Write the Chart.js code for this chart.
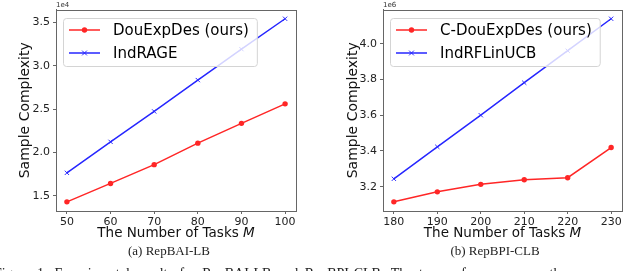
<!DOCTYPE html>
<html>
<head>
<meta charset="utf-8">
<script src="https://cdn.jsdelivr.net/npm/chart.js@4.4.1/dist/chart.umd.min.js"></script>
<style>
    body { margin: 0; background: #fff; width: 640px; height: 271px; overflow: hidden; position: relative; }
    .panel { position: absolute; top: 0; }
    .cap { position: absolute; top: 243px; font: 13px "Liberation Serif", serif; color: #222; transform: translateX(-50%); white-space: nowrap; }
    .fig { position: absolute; top: 266px; left: -6px; font: 14px "Liberation Serif", serif; color: #222; white-space: nowrap; word-spacing: 3px; }
</style>
</head>
<body>
<div class="panel" style="left:0"><canvas id="leftChart" width="310" height="245"></canvas></div>
<div class="panel" style="left:320px"><canvas id="rightChart" width="320" height="245"></canvas></div>
<div class="cap" style="left:169px">(a) RepBAI-LB</div>
<div class="cap" style="left:495px">(b) RepBPI-CLB</div>
<div class="fig">Figure 1: Experimental results for RepBAI-LB and RepBPI-CLB. The top performances are the</div>
<script>
// RepBAI-LB
const leftTasks = [50, 60, 70, 80, 90, 100];
const leftOurs = [14320, 16440, 18600, 21080, 23360, 25600];
const leftBase = [17660, 21230, 24730, 28340, 31900, 35400];
const leftYTicks = [15000, 20000, 25000, 30000, 35000];

// RepBPI-CLB
const rightTasks = [180, 190, 200, 210, 220, 230];
const rightOurs = [3115000, 3171000, 3213000, 3239000, 3250000, 3419000];
const rightBase = [3244000, 3423000, 3600000, 3782000, 3961000, 4140000];
const rightYTicks = [3200000, 3400000, 3600000, 3800000, 4000000];

const RED = "#ff2626";
const BLUE = "#2626ff";
const SPINE = "#666";

// matplotlib-like 5% autoscale margin
const padRange = (vals) => {
    const lo = Math.min(...vals), hi = Math.max(...vals);
    const m = (hi - lo) * 0.05;
    return [lo - m, hi + m];
};

const frame = {
    id: "frame",
    afterDraw(chart) {
        const { ctx, chartArea: a } = chart;
        ctx.save();
        ctx.strokeStyle = SPINE;
        ctx.lineWidth = 1;
        ctx.strokeRect(Math.round(a.left) + 0.5, Math.round(a.top) + 0.5,
            Math.round(a.right - a.left), Math.round(a.bottom - a.top));
        // offset text
        ctx.fillStyle = "#333";
        ctx.font = '7px "DejaVu Sans"';
        ctx.textBaseline = "bottom";
        ctx.fillText(chart.options.offsetText, a.left, a.top - 1);
        // x title with italic M
        const plain = "The Number of Tasks ";
        ctx.fillStyle = "#111";
        ctx.textBaseline = "middle";
        ctx.font = '13.5px "DejaVu Sans"';
        const w1 = ctx.measureText(plain).width;
        ctx.font = 'italic 13.5px "DejaVu Sans"';
        const w2 = ctx.measureText("M").width;
        const sx = (a.left + a.right) / 2 - (w1 + w2) / 2;
        ctx.font = '13.5px "DejaVu Sans"';
        ctx.fillText(plain, sx, 233);
        ctx.font = 'italic 13.5px "DejaVu Sans"';
        ctx.fillText("M", sx + w1, 233);
        ctx.restore();
    },
};

const boxLegend = {
    id: "boxLegend",
    afterDatasetsDraw(chart) {
        const { ctx, chartArea } = chart;
        const sets = chart.data.datasets;
        ctx.save();
        ctx.font = '15px "DejaVu Sans"';
        const textW = Math.max(...sets.map((s) => ctx.measureText(s.label).width));
        const x0 = Math.round(chartArea.left + 7), y0 = Math.round(chartArea.top + 8);
        const w = 6 + 31 + 13 + textW + 8, h = 48;
        ctx.beginPath();
        ctx.roundRect(x0 + 0.5, y0 + 0.5, w, h, 3);
        ctx.fillStyle = "rgba(255,255,255,0.8)";
        ctx.fill();
        ctx.strokeStyle = "#d4d4d4";
        ctx.lineWidth = 1;
        ctx.stroke();
        sets.forEach((s, i) => {
            const cy = y0 + 12 + i * 23;
            const lx = x0 + 6;
            ctx.strokeStyle = s.borderColor;
            ctx.fillStyle = s.borderColor;
            ctx.lineWidth = 1.5;
            ctx.beginPath();
            ctx.moveTo(lx, cy);
            ctx.lineTo(lx + 31, cy);
            ctx.stroke();
            const mx = lx + 15.5;
            if (s.pointStyle === "circle") {
                ctx.beginPath();
                ctx.arc(mx, cy, s.pointRadius, 0, Math.PI * 2);
                ctx.fill();
            } else {
                const r = s.pointRadius * 0.8;
                ctx.lineWidth = 1;
                ctx.beginPath();
                ctx.moveTo(mx - r, cy - r); ctx.lineTo(mx + r, cy + r);
                ctx.moveTo(mx - r, cy + r); ctx.lineTo(mx + r, cy - r);
                ctx.stroke();
            }
            ctx.fillStyle = "#000";
            ctx.textBaseline = "middle";
            ctx.fillText(s.label, lx + 31 + 13, cy + 1);
        });
        ctx.restore();
    },
};

function makeChart(id, tasks, ours, base, yTicks, labels, scaleDiv, offsetText, pad, yWidth) {
    const pts = (vals) => tasks.map((t, i) => ({ x: t, y: vals[i] }));
    const [xMin, xMax] = padRange(tasks);
    const [yMin, yMax] = padRange(ours.concat(base));
    const axisFont = { family: "DejaVu Sans", size: 11 };
    const grid = { display: true, drawOnChartArea: false, drawTicks: true, tickLength: 3, color: SPINE };
    const canvas = document.getElementById(id);
    return new Chart(canvas.getContext("2d"), {
        type: "line",
        data: {
            datasets: [
                {
                    label: labels[0],
                    data: pts(ours),
                    borderColor: RED,
                    backgroundColor: RED,
                    borderWidth: 1.5,
                    pointStyle: "circle",
                    pointRadius: 2.7,
                    pointBorderWidth: 0,
                    tension: 0,
                },
                {
                    label: labels[1],
                    data: pts(base),
                    borderColor: BLUE,
                    backgroundColor: BLUE,
                    borderWidth: 1.5,
                    pointStyle: "crossRot",
                    pointRadius: 3,
                    pointBorderWidth: 1,
                    tension: 0,
                },
            ],
        },
        options: {
            responsive: false,
            animation: false,
            offsetText: offsetText,
            layout: { padding: pad },
            plugins: { legend: { display: false }, tooltip: { enabled: false } },
            scales: {
                x: {
                    type: "linear",
                    min: xMin,
                    max: xMax,
                    afterBuildTicks: (s) => { s.ticks = tasks.map((v) => ({ value: v })); },
                    afterFit: (s) => { s.height = canvas.height - 211 - pad.bottom; },
                    ticks: { font: axisFont, color: "#222", padding: 2, maxRotation: 0, autoSkip: false },
                    grid: grid,
                    border: { display: true, color: SPINE },
                    title: { display: false },
                },
                y: {
                    min: yMin,
                    max: yMax,
                    afterBuildTicks: (s) => { s.ticks = yTicks.map((v) => ({ value: v })); },
                    afterFit: (s) => { s.width = yWidth; },
                    ticks: {
                        font: axisFont,
                        color: "#222",
                        padding: 3,
                        autoSkip: false,
                        callback: (v) => (v / scaleDiv).toFixed(1),
                    },
                    grid: grid,
                    border: { display: true, color: SPINE },
                    title: { display: true, text: "Sample Complexity", font: { family: "DejaVu Sans", size: 14 }, color: "#111", padding: { top: 4, bottom: 2 } },
                },
            },
        },
        plugins: [boxLegend, frame],
    });
}

document.addEventListener("DOMContentLoaded", () => {
    makeChart("leftChart", leftTasks, leftOurs, leftBase, leftYTicks,
        ["DouExpDes (ours)", "IndRAGE"], 1e4, "1e4",
        { left: 13, right: 14, top: 7, bottom: 0 }, 43);
    makeChart("rightChart", rightTasks, rightOurs, rightBase, rightYTicks,
        ["C-DouExpDes (ours)", "IndRFLinUCB"], 1e6, "1e6",
        { left: 21, right: 18, top: 7, bottom: 0 }, 42);
});
</script>
</body>
</html>
